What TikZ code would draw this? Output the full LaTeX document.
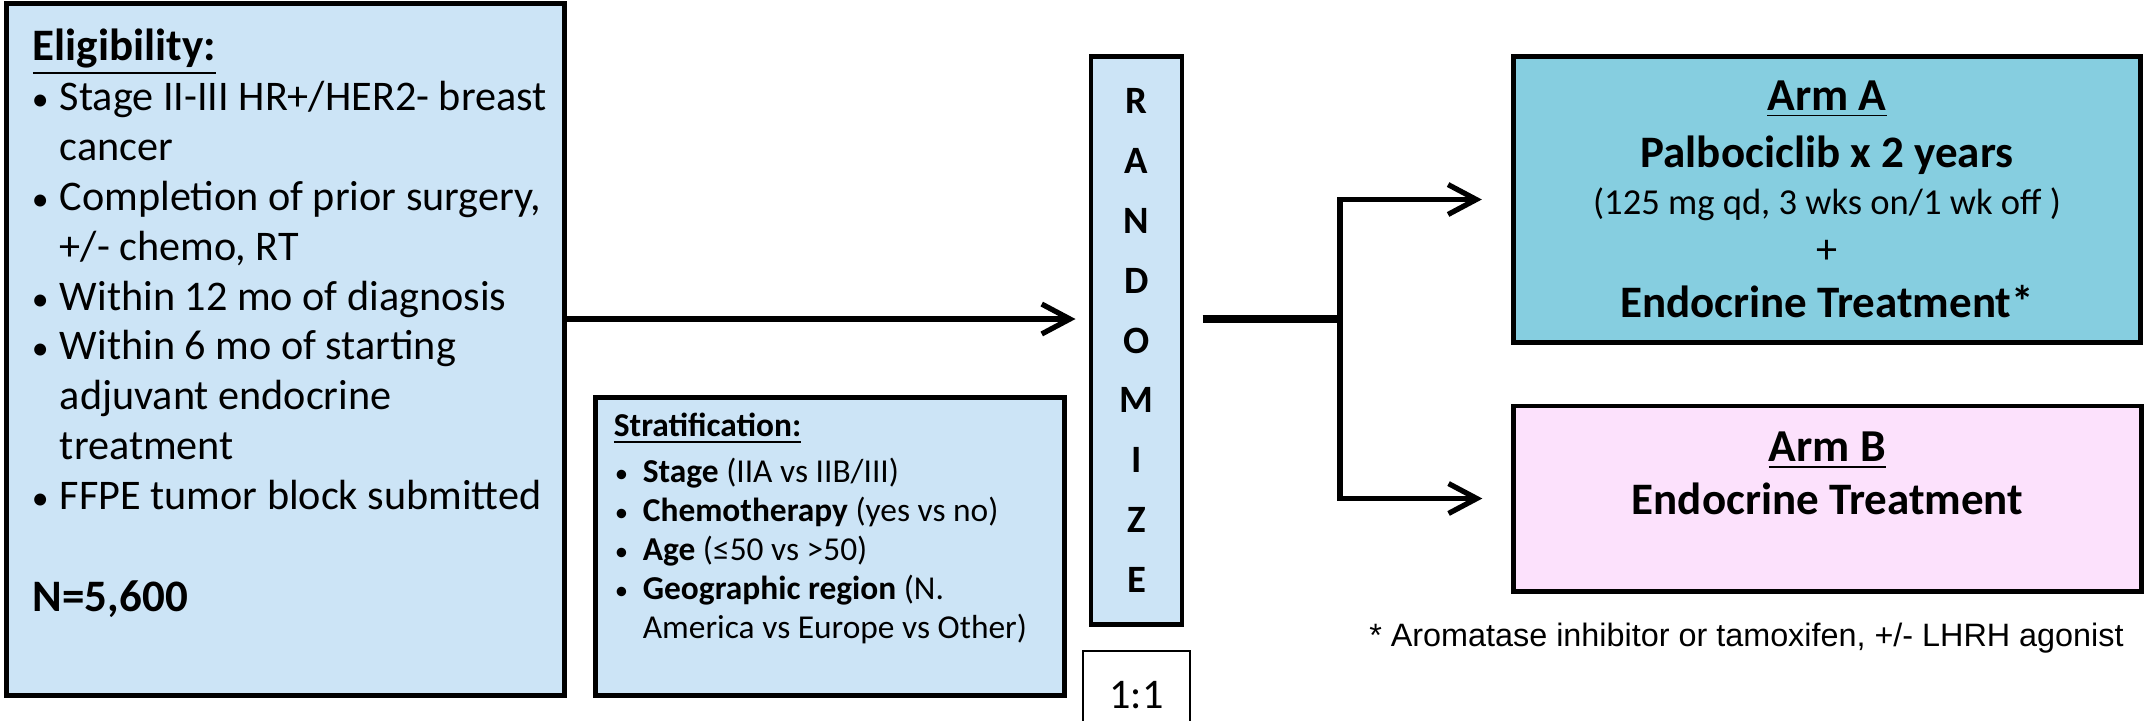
\documentclass[tikz,border=0pt]{standalone}
\usepackage{fontspec}
\usepackage{graphicx}
\setmainfont{Carlito}
\newfontfamily\notafont{Liberation Sans}
\usetikzlibrary{arrows.meta, positioning}
\definecolor{azul}{RGB}{204, 228, 246}
\definecolor{turquesa}{RGB}{134, 206, 224}
\definecolor{rosa}{RGB}{252, 225, 252}
\tikzset{
    caja/.style={draw, rectangle, line width=1.4pt, inner sep=0pt},
    cajaAzul/.style={caja, fill=azul},
    conn/.style={-, line width=1.5pt},
    flecha/.style={-{Straight Barb[length=8pt, width=8.5pt, line width=1.5pt]}, line width=1.5pt},
}
% bullet line: #1 = bullet indent, #2 = text indent
\newcommand{\punto}[3]{\par\hangindent=#2\hangafter=1\noindent\hspace*{#1}\makebox[\dimexpr#2-#1\relax][l]{\scalebox{0.8}{\textbullet}}#3}

\begin{document}
\begin{tikzpicture}[x=0.01cm, y=-0.01cm]
    \useasboundingbox (0,0) rectangle (2147,720);

    % left side
    \node[cajaAzul, minimum width=5.57cm, minimum height=6.91cm] (elig) at (285.5, 349.5) {%
        \begin{minipage}[c][6.91cm][t]{5.57cm}
        \fontsize{12}{14.2}\selectfont
        \noindent\hspace*{0.26cm}\rule{0pt}{0.565cm}{\fontsize{12.8}{14}\selectfont\bfseries\underline{Eligibility:}}
        \punto{0.25cm}{0.53cm}{Stage II-III HR+/HER2- breast\\cancer}
        \punto{0.25cm}{0.53cm}{Completion of prior surgery,\\+/- chemo, RT}
        \punto{0.25cm}{0.53cm}{Within 12 mo of diagnosis}
        \punto{0.25cm}{0.53cm}{Within 6 mo of starting\\adjuvant endocrine\\treatment}
        \punto{0.25cm}{0.53cm}{FFPE tumor block submitted}
        \par\vspace{14.6pt}
        \noindent\hspace*{0.26cm}{\fontsize{12.8}{14}\selectfont\bfseries N=5,600}
        \end{minipage}};

    \node[cajaAzul, minimum width=4.68cm, minimum height=2.97cm] (strat) at (830, 546.5) {%
        \begin{minipage}[c][2.97cm][t]{4.68cm}
        \fontsize{9.5}{11.15}\selectfont
        \noindent\hspace*{0.18cm}\rule{0pt}{0.39cm}\textbf{\underline{Stratification:}}
        \par\vspace{1.7pt}
        \punto{0.19cm}{0.47cm}{\textbf{Stage} (IIA vs IIB/III)}
        \punto{0.19cm}{0.47cm}{\textbf{Chemotherapy} (yes vs no)}
        \punto{0.19cm}{0.47cm}{\textbf{Age} (≤50 vs >50)}
        \punto{0.19cm}{0.47cm}{\textbf{Geographic region} (N.\\America vs Europe vs Other)}
        \end{minipage}};

    % randomization
    \node[cajaAzul, minimum width=0.91cm, minimum height=5.67cm, align=center,
          font={\fontsize{11}{17}\selectfont\bfseries}] (rand) at (1136.5, 340.5)
          {R\\A\\N\\D\\O\\M\\I\\Z\\E};
    \node[draw, line width=0.8pt, minimum width=1.07cm, minimum height=0.89cm, inner sep=0pt,
          font={\fontsize{12}{14}\selectfont}] (ratio) at (1136.5, 695.5) {1:1};

    % arms
    \node[caja, fill=turquesa, minimum width=6.27cm, minimum height=2.85cm, align=center,
          font={\fontsize{12.8}{15}\selectfont}] (armA) at (1827, 199.5) {%
        {\fontsize{13}{15}\selectfont\bfseries\underline{Arm A}}\\[1pt]
        {\bfseries Palbociclib x 2 years}\\[-1.6pt]
        {\fontsize{10.4}{15}\selectfont (125 mg qd, 3 wks on/1 wk off )}\\[-1pt]
        {\fontsize{12}{15}\selectfont +}\\[0.4pt]
        {\bfseries Endocrine Treatment*}};
    \node[caja, fill=rosa, minimum width=6.27cm, minimum height=1.85cm, align=center,
          font={\fontsize{12.8}{15}\selectfont}] (armB) at (1827.5, 498.5) {%
        {\fontsize{13}{15}\selectfont\bfseries\underline{Arm B}}\\
        {\bfseries Endocrine Treatment}\\[-0.8pt]\mbox{}};

    \node[font={\notafont\fontsize{9.2}{11}\selectfont}] (nota) at (1746.5, 638)
        {* Aromatase inhibitor or tamoxifen, +/- LHRH agonist};

    % connectors
    \coordinate (bif) at (1340, 319);
    \draw[flecha, shorten >=0.13cm] (elig.east |- bif) -- (rand.west |- bif);
    \draw[conn, line width=2pt, shorten <=0.18cm] (rand.east |- bif) -- (bif);
    \draw[flecha, shorten >=0.29cm] (bif) |- (armA.west);
    \draw[flecha, shorten >=0.29cm] (bif) |- (armB.west);
\end{tikzpicture}
\end{document}
